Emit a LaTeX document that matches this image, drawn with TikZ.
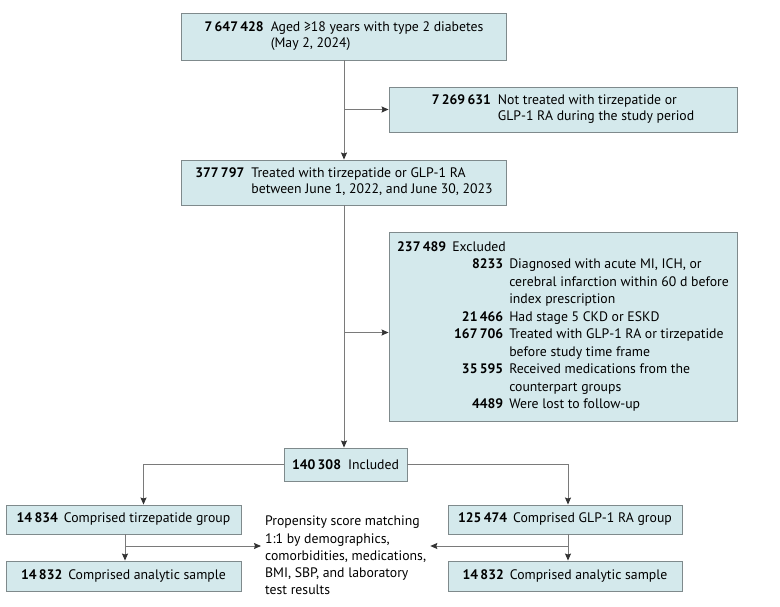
\documentclass[tikz,border=0pt]{standalone}
\usepackage{fontspec}
\setmainfont{PT Sans}
\usetikzlibrary{arrows.meta}

\definecolor{boxfill}{HTML}{D4E9EC}
\definecolor{boxline}{HTML}{7F8A8C}
\definecolor{linkgray}{HTML}{7A7A7A}

\tikzset{
  box/.style={draw=boxline,fill=boxfill,line width=0.9bp,inner sep=0pt,
    font=\fontsize{13.8}{16}\selectfont},
  link/.style={draw=linkgray,line width=1bp,-{Stealth[length=7bp,width=6bp,inset=1bp,color=black!80]}}
}

\begin{document}
\begin{tikzpicture}[x=1bp,y=-1bp]
\useasboundingbox (0,0) rectangle (780,607);

      \begin{scope}[every node/.style={box}]
        \node[minimum width=325bp,minimum height=47bp] (aged) at (344,36.5)
          {\begin{tabular}{@{}r@{\hspace{7bp}}l@{}}
            \textbf{7\,647\,428} & Aged ≥18 years with type 2 diabetes\\
            & (May 2, 2024)
          \end{tabular}};
        \node[minimum width=348bp,minimum height=45bp] (nottreated) at (563,109.5)
          {\begin{tabular}{@{}r@{\hspace{7bp}}l@{}}
            \textbf{7\,269\,631} & Not treated with tirzepatide or\\
            & GLP-1 RA during the study period
          \end{tabular}};
        \node[minimum width=325bp,minimum height=45bp] (treated) at (344,182.5)
          {\begin{tabular}{@{}r@{\hspace{7bp}}l@{}}
            \textbf{377\,797} & Treated with tirzepatide or GLP-1 RA\\
            & between June 1, 2022, and June 30, 2023
          \end{tabular}};
        \node[minimum width=348bp,minimum height=189bp,
          font=\fontsize{13.8}{17.6}\selectfont] (excluded) at (563,326.5)
          {\begin{tabular}{@{\hspace{57bp}}r@{\hspace{6bp}}l@{}}
            \multicolumn{2}{@{}l@{}}{\textbf{237\,489}\hspace{6bp}Excluded}\\
            \textbf{8233} & Diagnosed with acute MI, ICH, or\\
            & cerebral infarction within 60 d before\\
            & index prescription\\
            \textbf{21\,466} & Had stage 5 CKD or ESKD\\
            \textbf{167\,706} & Treated with GLP-1 RA or tirzepatide\\
            & before study time frame\\
            \textbf{35\,595} & Received medications from the\\
            & counterpart groups\\
            \textbf{4489} & Were lost to follow-up
          \end{tabular}};
        \node[minimum width=123bp,minimum height=33bp] (included) at (345.5,464.5)
          {\textbf{140\,308}\hspace{7bp}Included};
        \node[minimum width=235bp,minimum height=29bp] (tirzgroup) at (123.5,519.5)
          {\textbf{14\,834}\hspace{6bp}Comprised tirzepatide group};
        \node[minimum width=235bp,minimum height=30bp] (tirzsample) at (123.5,576)
          {\textbf{14\,832}\hspace{6bp}Comprised analytic sample};
        \node[minimum width=234bp,minimum height=29bp] (glpgroup) at (565,519.5)
          {\textbf{125\,474}\hspace{6bp}Comprised GLP-1 RA group};
        \node[minimum width=234bp,minimum height=30bp] (glpsample) at (565,576)
          {\textbf{14\,832}\hspace{6bp}Comprised analytic sample};
      \end{scope}

      \node[anchor=north west,inner sep=0pt,align=left,
        font=\fontsize{13.8}{17.3}\selectfont] (matching) at (265,516)
        {Propensity score matching\\
         1:1 by demographics,\\
         comorbidities, medications,\\
         BMI, SBP, and laboratory\\
         test results};
      \coordinate (matchrow) at (0,546);
      \coordinate (exclrow) at ([yshift=-6bp]excluded.west);

      \begin{scope}[every edge/.style={link}]
        \path (aged.south) edge (treated.north);
        \path (aged.south |- nottreated.west) edge (nottreated.west);
        \path (treated.south) edge (treated.south |- included.north);
        \path (treated.south |- exclrow) edge (exclrow);
        \path (included.west) edge[to path={-| (\tikztotarget)}] ([xshift=20bp]tirzgroup.north);
        \path (included.east) edge[to path={-| (\tikztotarget)}] ([xshift=3bp]glpgroup.north);
        \path ([xshift=1.5bp]tirzgroup.south) edge ([xshift=1.5bp]tirzsample.north);
        \path ([xshift=3bp]glpgroup.south) edge ([xshift=3bp]glpsample.north);
        \path ([xshift=1.5bp]tirzgroup.south |- matchrow) edge ([xshift=-4bp]matching.west |- matchrow);
        \path ([xshift=3bp]glpgroup.south |- matchrow) edge ([xshift=4bp]matching.east |- matchrow);
      \end{scope}

\end{tikzpicture}
\end{document}
